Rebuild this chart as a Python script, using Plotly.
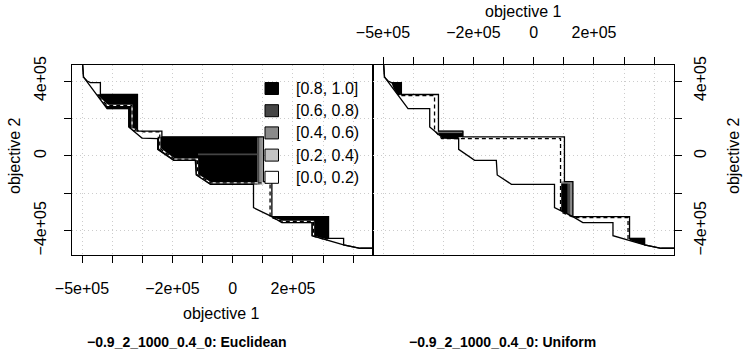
import plotly.graph_objects as go

W, H = 747, 358

# axis ticks
x_ticks = [-5e5, -4e5, -3e5, -2e5, -1e5, 0, 1e5, 2e5, 3e5, 4e5]
x_tick_text = ['−5e+05', '', '', '−2e+05', '', '0', '', '2e+05', '', '']
y_ticks = [-4e5, -2e5, 0, 2e5, 4e5]
y_tick_text = ['−4e+05', '', '0', '', '4e+05']

legend_labels = ['[0.8, 1.0]', '[0.6, 0.8)', '[0.4, 0.6)', '[0.2, 0.4)', '[0.0, 0.2)']
legend_colors = ['#000000', '#464646', '#8a8a8a', '#c4c4c4', '#ffffff']

titles = ['−0.9_2_1000_0.4_0: Euclidean', '−0.9_2_1000_0.4_0: Uniform']

# grand best / grand worst attainment surfaces (same in both panels)
best_x = [-4.98e5, -4.95e5, -4.83e5, -4.50e5, -4.17e5, -3.45e5, -3.45e5, -3.01e5, -2.49e5, -2.49e5,
          -1.96e5, -1.24e5, -1.21e5, -0.74e5, 0.69e5, 0.69e5, 1.30e5, 1.63e5, 2.63e5, 2.63e5,
          3.13e5, 3.68e5, 4.23e5, 4.70e5]
best_y = [4.90e5, 4.21e5, 3.95e5, 3.24e5, 2.52e5, 2.52e5, 1.54e5, 0.95e5, 0.92e5, 0.35e5,
          -0.24e5, -0.24e5, -1.02e5, -1.52e5, -1.52e5, -2.77e5, -3.25e5, -3.57e5, -3.57e5, -4.27e5,
          -4.50e5, -4.76e5, -4.94e5, -4.94e5]
worst_x = [-4.98e5, -4.95e5, -4.83e5, -4.72e5, -4.39e5, -4.39e5, -3.16e5, -3.16e5, -2.35e5, -2.35e5,
           1.02e5, 1.02e5, 1.30e5, 1.30e5, 3.18e5, 3.18e5, 3.68e5, 3.68e5, 4.23e5, 4.70e5]
worst_y = [4.90e5, 4.21e5, 4.00e5, 3.91e5, 3.91e5, 3.28e5, 3.28e5, 1.32e5, 1.32e5, 1.01e5,
           1.01e5, -1.38e5, -1.38e5, -3.25e5, -3.25e5, -4.41e5, -4.41e5, -4.76e5, -4.94e5, -4.94e5]

# median attainment surfaces (dashed)
left_med_x = [-4.45e5, -4.15e5, -3.34e5, -3.34e5, -2.95e5, -2.42e5, -2.42e5, -1.93e5, -1.17e5, -1.17e5,
              -0.72e5, 1.24e5, 1.24e5, 1.66e5, 2.68e5, 2.68e5, 3.13e5]
left_med_y = [3.15e5, 2.70e5, 2.70e5, 1.45e5, 1.28e5, 1.28e5, 0.40e5, -0.18e5, -0.18e5, -1.00e5,
              -1.45e5, -1.45e5, -3.28e5, -3.50e5, -3.50e5, -4.30e5, -4.50e5]
right_med_x = [-4.39e5, -3.29e5, -3.29e5, -3.05e5, 0.89e5, 0.89e5, 1.35e5, 3.13e5, 3.13e5]
right_med_y = [3.22e5, 3.22e5, 1.36e5, 0.92e5, 0.92e5, -3.00e5, -3.30e5, -3.30e5, -4.47e5]

# differences favouring the left side
left_a_x = [-4.50e5, -3.16e5, -3.16e5, -3.28e5, -3.45e5, -3.45e5, -4.17e5]
left_a_y = [3.28e5, 3.28e5, 1.32e5, 1.32e5, 1.54e5, 2.52e5, 2.52e5]
left_b_x = [-2.49e5, 0.81e5, 0.81e5, -0.74e5, -1.21e5, -1.24e5, -1.96e5, -2.49e5]
left_b_y = [1.01e5, 1.01e5, -1.52e5, -1.52e5, -1.02e5, -0.24e5, -0.24e5, 0.35e5]
left_b1_x = [0.81e5, 0.89e5, 0.89e5, 0.81e5]
left_b1_y = [1.01e5, 1.01e5, -1.52e5, -1.52e5]
left_b2_x = [0.89e5, 0.97e5, 0.97e5, 0.89e5]
left_b2_y = [1.01e5, 1.01e5, -1.52e5, -1.52e5]
left_b3_x = [0.97e5, 1.02e5, 1.02e5, 0.97e5]
left_b3_y = [1.01e5, 1.01e5, -1.52e5, -1.52e5]
left_b4_x = [-1.15e5, 0.81e5, 0.81e5, -1.15e5]
left_b4_y = [0.11e5, 0.11e5, 0.05e5, 0.05e5]
left_d_x = [1.30e5, 3.18e5, 3.18e5, 3.13e5, 2.63e5, 2.63e5, 1.63e5]
left_d_y = [-3.25e5, -3.25e5, -4.41e5, -4.48e5, -4.27e5, -3.57e5, -3.57e5]

# differences favouring the right side
right_a_x = [-4.72e5, -4.39e5, -4.39e5, -4.50e5, -4.65e5]
right_a_y = [3.91e5, 3.91e5, 3.28e5, 3.24e5, 3.60e5]
right_b_x = [-3.16e5, -2.35e5, -2.35e5, -2.49e5, -2.49e5, -3.01e5, -3.16e5]
right_b_y = [1.32e5, 1.32e5, 1.01e5, 1.01e5, 0.92e5, 0.95e5, 1.15e5]
right_b1_x = [-3.16e5, -2.35e5, -2.35e5, -3.16e5]
right_b1_y = [1.32e5, 1.32e5, 1.24e5, 1.24e5]
right_c_x = [0.89e5, 1.13e5, 1.13e5, 0.89e5]
right_c_y = [-1.46e5, -1.46e5, -3.12e5, -2.93e5]
right_c1_x = [1.13e5, 1.22e5, 1.22e5, 1.13e5]
right_c1_y = [-1.46e5, -1.46e5, -3.19e5, -3.12e5]
right_c2_x = [1.22e5, 1.30e5, 1.30e5, 1.22e5]
right_c2_y = [-1.38e5, -1.38e5, -3.25e5, -3.19e5]
right_c3_x = [0.89e5, 1.22e5, 1.22e5, 0.89e5]
right_c3_y = [-1.38e5, -1.38e5, -1.46e5, -1.46e5]
right_d_x = [3.18e5, 3.68e5, 3.68e5, 3.18e5]
right_d_y = [-4.41e5, -4.41e5, -4.76e5, -4.50e5]

left_regions = [(left_a_x, left_a_y, 0), (left_b_x, left_b_y, 0), (left_b1_x, left_b1_y, 1),
                (left_b2_x, left_b2_y, 2), (left_b3_x, left_b3_y, 3), (left_b4_x, left_b4_y, 1),
                (left_d_x, left_d_y, 0)]
right_regions = [(right_a_x, right_a_y, 0), (right_b_x, right_b_y, 0), (right_b1_x, right_b1_y, 2),
                 (right_c_x, right_c_y, 0), (right_c1_x, right_c1_y, 1), (right_c2_x, right_c2_y, 2),
                 (right_c3_x, right_c3_y, 2), (right_d_x, right_d_y, 0)]


def px(x):
    return x / W


def py(y):
    return 1 - y / H


FONT = 'Liberation Sans'
FS = 16
fig = go.Figure()

for regions, med_x, med_y, xa, ya in [(left_regions, left_med_x, left_med_y, 'x', 'y'),
                                      (right_regions, right_med_x, right_med_y, 'x2', 'y2')]:
    for rx, ry, lvl in regions:
        c = legend_colors[lvl]
        fig.add_trace(go.Scatter(x=rx, y=ry, fill='toself', fillcolor=c, mode='lines',
                                 line=dict(color=c, width=0.5), xaxis=xa, yaxis=ya,
                                 hoverinfo='skip', showlegend=False))
    # white underlay so the dash gaps show inside black areas
    fig.add_trace(go.Scatter(x=med_x, y=med_y, mode='lines', line=dict(color='white', width=1.3),
                             xaxis=xa, yaxis=ya, hoverinfo='skip', showlegend=False))
    for lx, ly in [(best_x, best_y), (worst_x, worst_y)]:
        fig.add_trace(go.Scatter(x=lx, y=ly, mode='lines', line=dict(color='black', width=1.3),
                                 xaxis=xa, yaxis=ya, showlegend=False))
    fig.add_trace(go.Scatter(x=med_x, y=med_y, mode='lines',
                             line=dict(color='black', width=1.3, dash='4px,3px'),
                             xaxis=xa, yaxis=ya, showlegend=False))

axis_common = dict(showline=True, linecolor='black', linewidth=1, mirror=True, ticks='outside',
                   ticklen=7, tickcolor='black', showgrid=True, gridcolor='#cccccc',
                   griddash='1px,3px', gridwidth=1, zeroline=False, automargin=False,
                   tickfont=dict(family=FONT, size=FS, color='black'))
x_range = [-5.332e5, 4.655e5]
y_range = [-5.30e5, 4.856e5]

fig.update_layout(
    template='none',
    width=W, height=H, margin=dict(l=0, r=0, t=0, b=0, pad=0),
    paper_bgcolor='white', plot_bgcolor='white', showlegend=False,
    xaxis=dict(domain=[px(72), px(373)], range=x_range, tickvals=x_ticks, ticktext=x_tick_text,
               anchor='y', ticklabelstandoff=12, **axis_common),
    yaxis=dict(domain=[py(255), py(65)], range=y_range, tickvals=y_ticks, ticktext=y_tick_text,
               anchor='x', tickangle=-90, ticklabelstandoff=12, **axis_common),
    xaxis2=dict(domain=[px(373), px(674)], range=x_range, tickvals=x_ticks, ticktext=x_tick_text,
                anchor='y2', side='top', ticklabelstandoff=13, **axis_common),
    yaxis2=dict(domain=[py(255), py(65)], range=y_range, tickvals=y_ticks, ticktext=y_tick_text,
                anchor='x2', side='right', tickangle=-90, ticklabelstandoff=5, **axis_common),
)

ann = []
ann.append(dict(x=px(14), y=py(156), text='objective 2', textangle=-90))
ann.append(dict(x=px(733), y=py(156), text='objective 2', textangle=-90))
ann.append(dict(x=px(222), y=py(313), text='objective 1'))
ann.append(dict(x=px(523), y=py(11), text='objective 1'))
for a in ann:
    a.update(xref='paper', yref='paper', showarrow=False, xanchor='center', yanchor='middle',
             font=dict(family=FONT, size=FS, color='black'))
    fig.add_annotation(**a)

for cx, t in zip([187, 502], titles):
    fig.add_annotation(x=px(cx), y=py(342), xref='paper', yref='paper', text='<b>' + t + '</b>',
                       showarrow=False, xanchor='center', yanchor='middle',
                       font=dict(family=FONT, size=14, color='black'))

# legend inside the left panel
for i, (lab, c) in enumerate(zip(legend_labels, legend_colors)):
    yc = 88.5 + i * 22.2
    fig.add_shape(type='rect', xref='paper', yref='paper', x0=px(265), x1=px(278.5),
                  y0=py(yc + 6), y1=py(yc - 6), fillcolor=c, line=dict(color='black', width=1),
                  layer='above')
    fig.add_annotation(x=px(294), y=py(yc), xref='paper', yref='paper', text=lab, showarrow=False,
                       xanchor='left', yanchor='middle', font=dict(family=FONT, size=FS, color='black'))

fig.write_html("out.html", config={'displayModeBar': False},
               post_script="document.body.style.margin='0';")
